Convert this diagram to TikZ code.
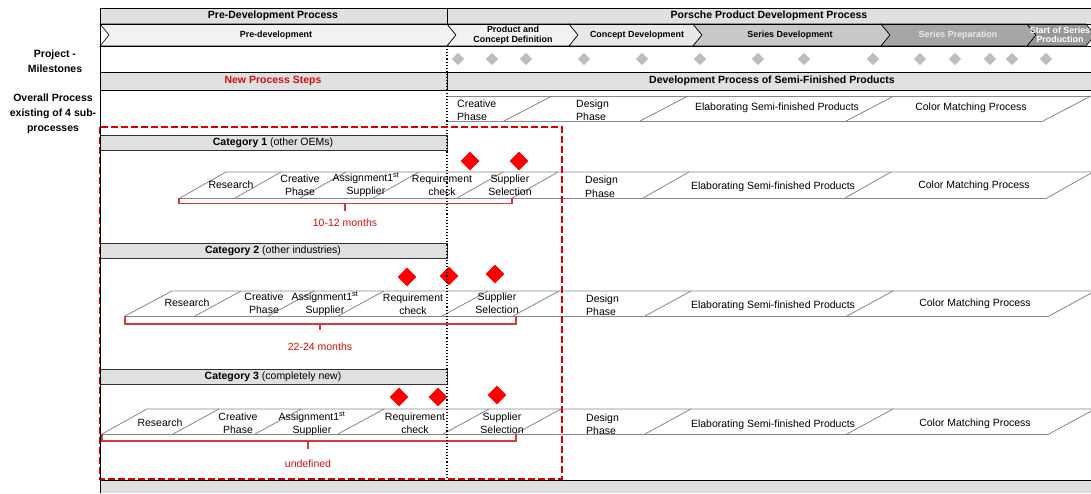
\documentclass[tikz,border=0pt]{standalone}
\usepackage{fontspec}
\setmainfont{Liberation Sans}
\usetikzlibrary{shapes.geometric}

\definecolor{hdrgray}{RGB}{224,224,224}
\definecolor{chevA}{RGB}{242,242,242}
\definecolor{chevB}{RGB}{232,232,232}
\definecolor{chevC}{RGB}{200,200,200}
\definecolor{chevD}{RGB}{166,166,166}
\definecolor{chevE}{RGB}{152,152,152}
\definecolor{msgray}{RGB}{190,190,190}
\definecolor{stripgray}{RGB}{135,135,135}
\definecolor{boxred}{RGB}{218,0,0}
\definecolor{bracered}{RGB}{212,60,60}
\definecolor{txtred}{RGB}{204,16,16}

\begin{document}
\begin{tikzpicture}[x=1pt,y=-1pt,
  hdr/.style={font=\fontsize{10.5}{12}\selectfont\bfseries, inner sep=0pt},
  side/.style={font=\fontsize{10.5}{15}\selectfont\bfseries, align=center, inner sep=0pt},
  chevtxt/.style={font=\fontsize{8.9}{9.6}\selectfont\bfseries, align=center, inner sep=0pt},
  stxt/.style={font=\fontsize{10.5}{13}\selectfont, align=center, inner sep=0pt},
  stxtl/.style={font=\fontsize{10.5}{13.5}\selectfont, align=left, inner sep=0pt, anchor=west},
  redtxt/.style={font=\fontsize{10.5}{12}\selectfont, text=txtred, inner sep=0pt},
  mile/.style={diamond, fill=msgray, inner sep=0pt, minimum width=12.5pt, minimum height=12.5pt},
  gate/.style={diamond, fill=red, inner sep=0pt, minimum width=19pt, minimum height=19pt},
  strip/.style={draw=stripgray, line width=0.8pt},
  brace/.style={draw=bracered, line width=1.1pt},
  chev/.style={draw=black, line width=0.6pt},
  catbar/.style={fill=hdrgray, draw=black!80, line width=0.8pt},
]
\useasboundingbox (0,0) rectangle (1091,493);
\fill[white] (0,0) rectangle (1091,493);

% ---------- header row ----------
\fill[hdrgray] (100,8) rectangle (1091,24);
\draw[line width=0.8pt] (100,8) -- (1091,8);
\draw[line width=0.8pt] (447,8) -- (447,24);
\node[hdr] (hpre) at (273,16) {Pre-Development Process};
\node[hdr] (hpor) at (769,16) {Porsche Product Development Process};

% ---------- phase chevrons ----------
\filldraw[chev, fill=chevA] (100,24) -- (447,24) -- (456,35) -- (447,46) -- (100,46) -- (109,35) -- cycle;
\filldraw[chev, fill=chevA] (447,24) -- (569,24) -- (578,35) -- (569,46) -- (447,46) -- (456,35) -- cycle;
\filldraw[chev, fill=chevB] (569,24) -- (693,24) -- (702,35) -- (693,46) -- (569,46) -- (578,35) -- cycle;
\filldraw[chev, fill=chevC] (693,24) -- (881,24) -- (890,35) -- (881,46) -- (693,46) -- (702,35) -- cycle;
\filldraw[chev, fill=chevD] (881,24) -- (1027,24) -- (1036,35) -- (1027,46) -- (881,46) -- (890,35) -- cycle;
\filldraw[chev, fill=chevE] (1027,24) -- (1086,24) -- (1095,35) -- (1086,46) -- (1027,46) -- (1036,35) -- cycle;
\draw[line width=0.8pt] (100,24) -- (1091,24);
\draw[line width=0.8pt] (100,46) -- (1091,46);
\node[chevtxt] (ppre) at (276,35) {Pre-development};
\node[chevtxt] (pdef) at (513,35) {Product and\\Concept Definition};
\node[chevtxt] (pcon) at (637,35) {Concept Development};
\node[chevtxt] (pser) at (790,35) {Series Development};
\node[chevtxt, text=white!92!black] (pprep) at (958,35) {Series Preparation};
\node[chevtxt, text=white] (psop) at (1060,35) {Start of Series\\Production};

% ---------- milestones ----------
\foreach \x [count=\i] in {458,492,526,584,642,700,758,804,873,920,955,990,1012,1046}
  \node[mile] (m\i) at (\x,59) {};

% ---------- second header row ----------
\fill[hdrgray] (100,72) rectangle (1091,90);
\draw[line width=0.8pt] (100,72) -- (1091,72);
\draw[line width=0.8pt] (100,90) -- (1091,90);
\draw[line width=0.8pt] (447,72) -- (447,90);
\node[hdr, text=txtred] (hnew) at (273,81) {New Process Steps};
\node[hdr] (hsemi) at (772,81) {Development Process of Semi-Finished Products};

% ---------- side labels ----------
\node[side] (lmile) at (55,61) {Project -\\Milestones};
\node[side] (lover) at (53,113.5) {Overall Process\\existing of 4 sub-\\processes};

% ---------- overall sub-process strip ----------
\draw[strip] (447,96) -- (1091,96);
\draw[strip] (447,121) -- (1043,121);
\foreach \b in {504,640,846,1043} \draw[strip] (\b,121) -- ++(48,-25);
\node[stxtl] (o1) at (457,110) {Creative\\Phase};
\node[stxtl] (o2) at (576,110) {Design\\Phase};
\node[stxt] (o3) at (777,108) {Elaborating Semi-finished Products};
\node[stxt] (o4) at (971,108) {Color Matching Process};

% ---------- category bars ----------
\filldraw[catbar] (100,135) rectangle (447,150);
\node[stxt] (k1) at (273,142.5) {\textbf{Category 1} (other OEMs)};
\filldraw[catbar] (100,243) rectangle (447,258);
\node[stxt] (k2) at (273,250.5) {\textbf{Category 2} (other industries)};
\filldraw[catbar] (100,369) rectangle (447,384);
\node[stxt] (k3) at (273,376.5) {\textbf{Category 3} (completely new)};

% ---------- category 1 strip ----------
\draw[strip] (180,198) -- (226,172) -- (1091,172);
\draw[strip] (180,198) -- (1047,198);
\foreach \b in {235,300,373,457,512,643,845,1047} \draw[strip] (\b,198) -- ++(46,-26);
\node[stxt] (a1) at (231,185) {Research};
\node[stxt] (a2) at (300,185) {Creative\\Phase};
\node[stxt] (a3) at (366,185) {Assignment1\textsuperscript{st}\\Supplier};
\node[stxt] (a4) at (442,185) {Requirement\\check};
\node[stxt] (a5) at (510,185) {Supplier\\Selection};
\node[stxtl] (a6) at (585,186.5) {Design\\Phase};
\node[stxt] (a7) at (773,187) {Elaborating Semi-finished Products};
\node[stxt] (a8) at (974,185.5) {Color Matching Process};
\node[gate] (g11) at (470,161) {};
\node[gate] (g12) at (519,161) {};
\draw[brace] (179,198) -- (179,203.5) -- (512,203.5) -- (512,198);
\draw[brace] (345,203.5) -- (345,211);
\node[redtxt] (t1) at (345,223) {10-12 months};

% ---------- category 2 strip ----------
\draw[strip] (125,316) -- (172,291) -- (1091,291);
\draw[strip] (125,316) -- (1049,316);
\foreach \b in {195,268,338,442,513,645,847,1049} \draw[strip] (\b,316) -- ++(46,-25);
\node[stxt] (b1) at (187,303) {Research};
\node[stxt] (b2) at (264,303.5) {Creative\\Phase};
\node[stxt] (b3) at (325,303.5) {Assignment1\textsuperscript{st}\\Supplier};
\node[stxt] (b4) at (413,304) {Requirement\\check};
\node[stxt] (b5) at (497,303.5) {Supplier\\Selection};
\node[stxtl] (b6) at (586,305) {Design\\Phase};
\node[stxt] (b7) at (773,306) {Elaborating Semi-finished Products};
\node[stxt] (b8) at (975,303.5) {Color Matching Process};
\node[gate] (g21) at (407,277) {};
\node[gate] (g22) at (449,276) {};
\node[gate] (g23) at (495,274) {};
\draw[brace] (125,316) -- (125,324) -- (516,324) -- (516,316);
\draw[brace] (320,324) -- (320,330);
\node[redtxt] (t2) at (320,347) {22-24 months};

% ---------- category 3 strip ----------
\draw[strip] (102,434) -- (147,409) -- (1091,409);
\draw[strip] (102,434) -- (1049,434);
\foreach \b in {173,255,338,443,515,645,847,1049} \draw[strip] (\b,434) -- ++(46,-25);
\node[stxt] (c1) at (160,423) {Research};
\node[stxt] (c2) at (238,423) {Creative\\Phase};
\node[stxt] (c3) at (312,424) {Assignment1\textsuperscript{st}\\Supplier};
\node[stxt] (c4) at (415,423.5) {Requirement\\check};
\node[stxt] (c5) at (502,423.5) {Supplier\\Selection};
\node[stxtl] (c6) at (586,424) {Design\\Phase};
\node[stxt] (c7) at (773,425) {Elaborating Semi-finished Products};
\node[stxt] (c8) at (975,423.5) {Color Matching Process};
\node[gate] (g31) at (399,397) {};
\node[gate] (g32) at (438,397) {};
\node[gate] (g33) at (497,395) {};
\draw[brace] (102,434) -- (102,441) -- (516,441) -- (516,434);
\draw[brace] (308,441) -- (308,449);
\node[redtxt] (t3) at (308,464) {undefined};

% ---------- bottom band, separators, frame ----------
\fill[hdrgray] (100,480) rectangle (1091,493);
\draw[line width=0.8pt] (100,480) -- (1091,480);
\draw[dotted, line width=1.1pt] (447,46) -- (447,480);
\draw[draw=boxred, line width=2pt, dash pattern=on 7pt off 3pt] (100,127) rectangle (562,479);
\draw[line width=1pt] (100,8) -- (100,493);
\end{tikzpicture}
\end{document}
